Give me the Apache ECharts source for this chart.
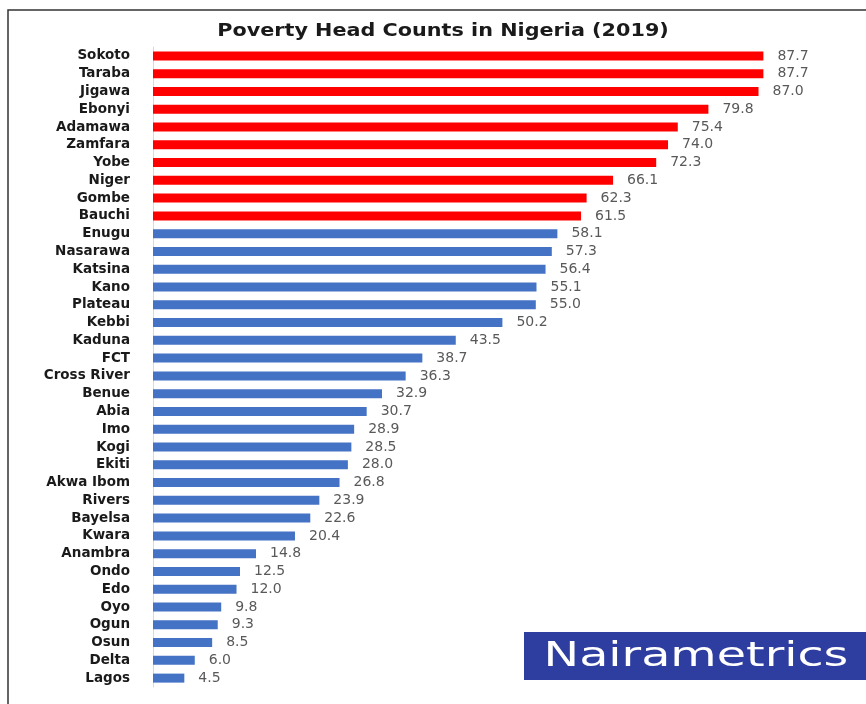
<!DOCTYPE html>
<html><head><meta charset="utf-8">
<script src="https://cdn.jsdelivr.net/npm/echarts@6/dist/echarts.min.js"></script>
<style>html,body{margin:0;padding:0;background:#fff}#c{width:866px;height:704px}</style>
</head><body><div id="c"></div>
<script>
const states = ["Sokoto","Taraba","Jigawa","Ebonyi","Adamawa","Zamfara","Yobe","Niger","Gombe","Bauchi","Enugu","Nasarawa","Katsina","Kano","Plateau","Kebbi","Kaduna","FCT","Cross River","Benue","Abia","Imo","Kogi","Ekiti","Akwa Ibom","Rivers","Bayelsa","Kwara","Anambra","Ondo","Edo","Oyo","Ogun","Osun","Delta","Lagos"];
const poverty = [87.7,87.7,87.0,79.8,75.4,74.0,72.3,66.1,62.3,61.5,58.1,57.3,56.4,55.1,55.0,50.2,43.5,38.7,36.3,32.9,30.7,28.9,28.5,28.0,26.8,23.9,22.6,20.4,14.8,12.5,12.0,9.8,9.3,8.5,6.0,4.5];
const redCount = 10;
const titleText = "Poverty Head Counts in Nigeria (2019)";

const chart = echarts.init(document.getElementById('c'));
chart.setOption({
  animation:false,
  backgroundColor:'#fff',
  grid:{left:153,top:47,width:696,height:640,containLabel:false},
  xAxis:{type:'value',min:0,max:100,show:false},
  yAxis:{type:'category',data:states,inverse:true,
    axisLine:{show:true,lineStyle:{color:'#d9d9d9',width:1}},
    axisTick:{show:false},
    axisLabel:{interval:0,hideOverlap:false,margin:23,fontFamily:'DejaVu Sans',fontWeight:'bold',fontSize:13.5,color:'#1a1a1a'}},
  series:[{type:'bar',barWidth:9,
    data:poverty.map((v,i)=>({value:v,itemStyle:{color:i<redCount?'#ff0000':'#4472c4'}})),
    label:{show:true,position:'right',distance:14,fontFamily:'DejaVu Sans',fontSize:14,color:'#595959',
      formatter:p=>p.value.toFixed(1)}}],
  graphic:[
    {type:'rect',shape:{x:8,y:10,width:900,height:720},style:{fill:'none',stroke:'#333',lineWidth:1.5},z:100},
    {type:'text',x:443,y:32,scaleX:1.22,style:{text:titleText,fill:'#1a1a1a',font:'bold 17px "DejaVu Sans"',align:'center',verticalAlign:'middle'},z:101},
    {type:'rect',shape:{x:524,y:632,width:342,height:48},style:{fill:'#2e3da0'},z:100},
    {type:'text',x:696,y:657,scaleX:1.4,style:{text:'Nairametrics',fill:'#fff',font:'34px "DejaVu Sans"',align:'center',verticalAlign:'middle'},z:101}
  ]
});
</script></body></html>
